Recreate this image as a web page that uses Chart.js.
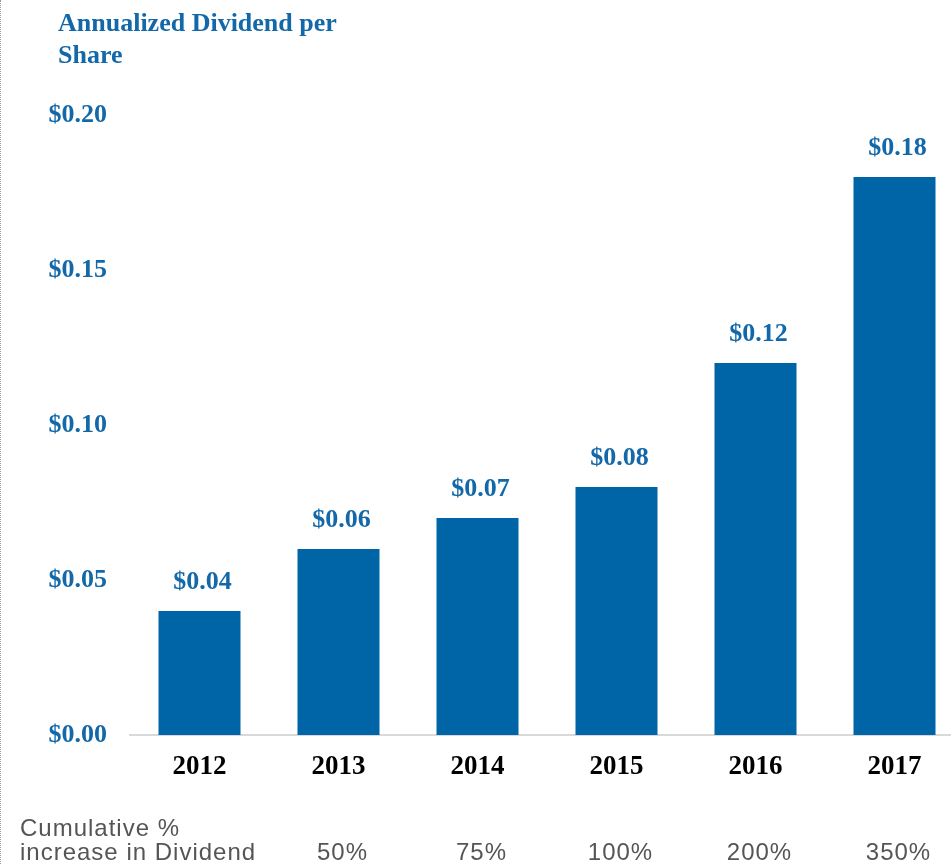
<!DOCTYPE html>
<html>
<head>
<meta charset="utf-8">
<script src="https://cdn.jsdelivr.net/npm/chart.js@4/dist/chart.umd.min.js"></script>
<style>
  html, body { margin: 0; padding: 0; background: #fff; overflow: hidden; }
  #wrap { position: relative; width: 964px; height: 864px; }
  #edge { position: absolute; left: 0; top: 0; width: 0; height: 864px; border-left: 1px dotted #9a9a9a; z-index: 2; }
</style>
</head>
<body>
<div id="wrap">
  <div id="edge"></div>
  <canvas id="chart" width="964" height="864"></canvas>
</div>
<script>
// Annualized dividend per share by year
const years = ['2012', '2013', '2014', '2015', '2016', '2017'];
const dividends = [0.04, 0.06, 0.07, 0.08, 0.12, 0.18];
// Cumulative increase in the dividend (shown under 2013–2017)
const cumulativeIncrease = ['', '50%', '75%', '100%', '200%', '350%'];
const titleLines = ['Annualized Dividend per', 'Share'];
const noteLines = ['Cumulative %', 'increase in Dividend'];

const BLUE_BAR = '#0065A6';
const BLUE_TEXT = '#1268A8';
const SERIF = '"Liberation Serif", "Times New Roman", Times, serif';
const SANS = '"Liberation Sans", Arial, Helvetica, sans-serif';

const annotations = {
  id: 'annotations',
  afterDatasetsDraw(chart) {
    const ctx = chart.ctx;
    const meta = chart.getDatasetMeta(0);
    ctx.save();
    // value labels above each bar
    ctx.font = 'bold 26px ' + SERIF;
    ctx.fillStyle = BLUE_TEXT;
    ctx.textAlign = 'center';
    ctx.textBaseline = 'middle';
    meta.data.forEach((bar, i) => {
      ctx.fillText('$' + dividends[i].toFixed(2), bar.x + 3, bar.y - 29);
    });
    // axis title
    ctx.textAlign = 'left';
    ctx.textBaseline = 'alphabetic';
    ctx.fillText(titleLines[0], 58, 31);
    ctx.fillText(titleLines[1], 58, 63);
    // cumulative increase row
    ctx.font = '24px ' + SANS;
    ctx.fillStyle = '#555555';
    if ('letterSpacing' in ctx) ctx.letterSpacing = '1px';
    ctx.fillText(noteLines[0], 20, 836);
    ctx.fillText(noteLines[1], 20, 860);
    ctx.textAlign = 'center';
    meta.data.forEach((bar, i) => {
      if (cumulativeIncrease[i]) ctx.fillText(cumulativeIncrease[i], bar.x + 4, 860);
    });
    ctx.restore();
  }
};

new Chart(document.getElementById('chart'), {
  type: 'bar',
  data: {
    labels: years,
    datasets: [{
      data: dividends,
      backgroundColor: BLUE_BAR,
      borderWidth: 0,
      categoryPercentage: 1,
      barPercentage: 0.59
    }]
  },
  options: {
    responsive: false,
    animation: false,
    devicePixelRatio: 1,
    layout: { padding: { top: 115, left: 0, right: 0, bottom: 0 } },
    plugins: {
      legend: { display: false },
      tooltip: { enabled: false },
      title: { display: false }
    },
    scales: {
      x: {
        grid: { display: false, drawTicks: false },
        border: { display: true, color: '#D9D9D9', width: 2 },
        ticks: {
          color: '#000',
          font: { family: SERIF, size: 27, weight: 'bold' },
          padding: 16,
          maxRotation: 0
        },
        afterFit(scale) { scale.height = 129; }
      },
      y: {
        min: 0,
        max: 0.20,
        grid: { display: false, drawTicks: false },
        border: { display: false },
        ticks: {
          stepSize: 0.05,
          color: BLUE_TEXT,
          font: { family: SERIF, size: 26, weight: 'bold' },
          padding: 23,
          callback: (v) => '$' + Number(v).toFixed(2)
        },
        afterFit(scale) { scale.width = 130; }
      }
    }
  },
  plugins: [annotations]
});
</script>
</body>
</html>
